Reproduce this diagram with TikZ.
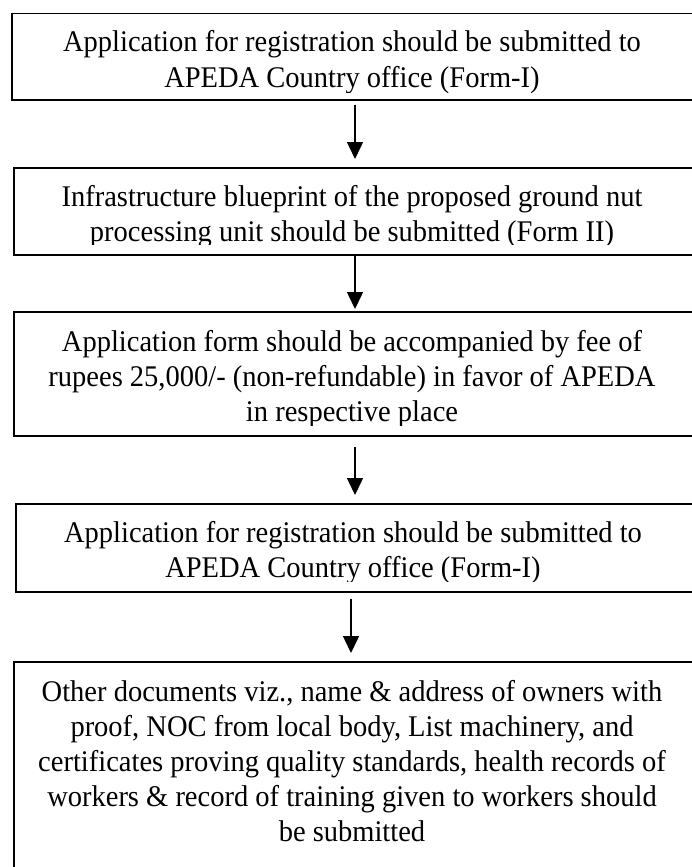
\documentclass[tikz,border=0pt]{standalone}
\usepackage{fontspec}
\setmainfont{Liberation Serif}[FakeStretch=0.95]
\usetikzlibrary{arrows.meta,calc}
\begin{document}
\begin{tikzpicture}[x=1pt,y=-1pt,
  box/.style={draw=black,line width=1.5pt,inner sep=0pt,anchor=north west},
  ln/.style={anchor=base,inner sep=0pt,font=\fontsize{30pt}{35pt}\selectfont},
  arr/.style={draw=black,line width=1.5pt,-{Triangle[width=16pt,length=17pt]}}]
\useasboundingbox (0,0) rectangle (691,867);
\fill[white] (0,0) rectangle (691,867);
% boxes
\node[box,minimum width=682pt,minimum height=86pt]  (b1) at (11,13)  {};
\node[box,minimum width=680pt,minimum height=87pt]  (b2) at (13,167) {};
\node[box,minimum width=680pt,minimum height=124pt] (b3) at (13,311) {};
\node[box,minimum width=678pt,minimum height=88pt]  (b4) at (15,503) {};
\node[box,minimum width=680pt,minimum height=230pt] (b5) at (13,661) {};
% texts
\begin{scope}
\clip (0,13) rectangle (691,92);
\node[ln] (t1a) at (352,52) {Application for registration should be submitted to};
\node[ln] (t1b) at (352,87) {APEDA Country office (Form-I)};
\end{scope}
\begin{scope}
\clip (0,167) rectangle (691,244);
\node[ln] (t2a) at (352,206) {Infrastructure blueprint of the proposed ground nut};
\node[ln] (t2b) at (352,241) {processing unit should be submitted (Form II)};
\end{scope}
\begin{scope}
\clip (0,311) rectangle (691,425);
\node[ln] (t3a) at (352,351) {Application form should be accompanied by fee of};
\node[ln] (t3b) at (352,386) {rupees 25,000/- (non-refundable) in favor of APEDA};
\node[ln] (t3c) at (352,421) {in respective place};
\end{scope}
\begin{scope}
\clip (0,503) rectangle (691,581);
\node[ln] (t4a) at (353,542) {Application for registration should be submitted to};
\node[ln] (t4b) at (353,577) {APEDA Country office (Form-I)};
\end{scope}
\node[ln] (t5a) at (352,701) {Other documents viz., name \& address of owners with};
\node[ln] (t5b) at (352,736) {proof, NOC from local body, List machinery, and};
\node[ln] (t5c) at (352,771) {certificates proving quality standards, health records of};
\node[ln] (t5d) at (352,806) {workers \& record of training given to workers should};
\node[ln] (t5e) at (352,841) {be submitted};
% arrows
\draw[arr] ($(b1.south west)+(344,4)$) -- ($(b2.north west)+(342,-8)$);
\draw[arr] ($(b2.south west)+(342,0)$) -- ($(b3.north west)+(342,-2)$);
\draw[arr] ($(b3.south west)+(342,10)$) -- ($(b4.north west)+(340,-8)$);
\draw[arr] ($(b4.south west)+(336,6)$) -- ($(b5.north west)+(338,-8)$);
\end{tikzpicture}
\end{document}
